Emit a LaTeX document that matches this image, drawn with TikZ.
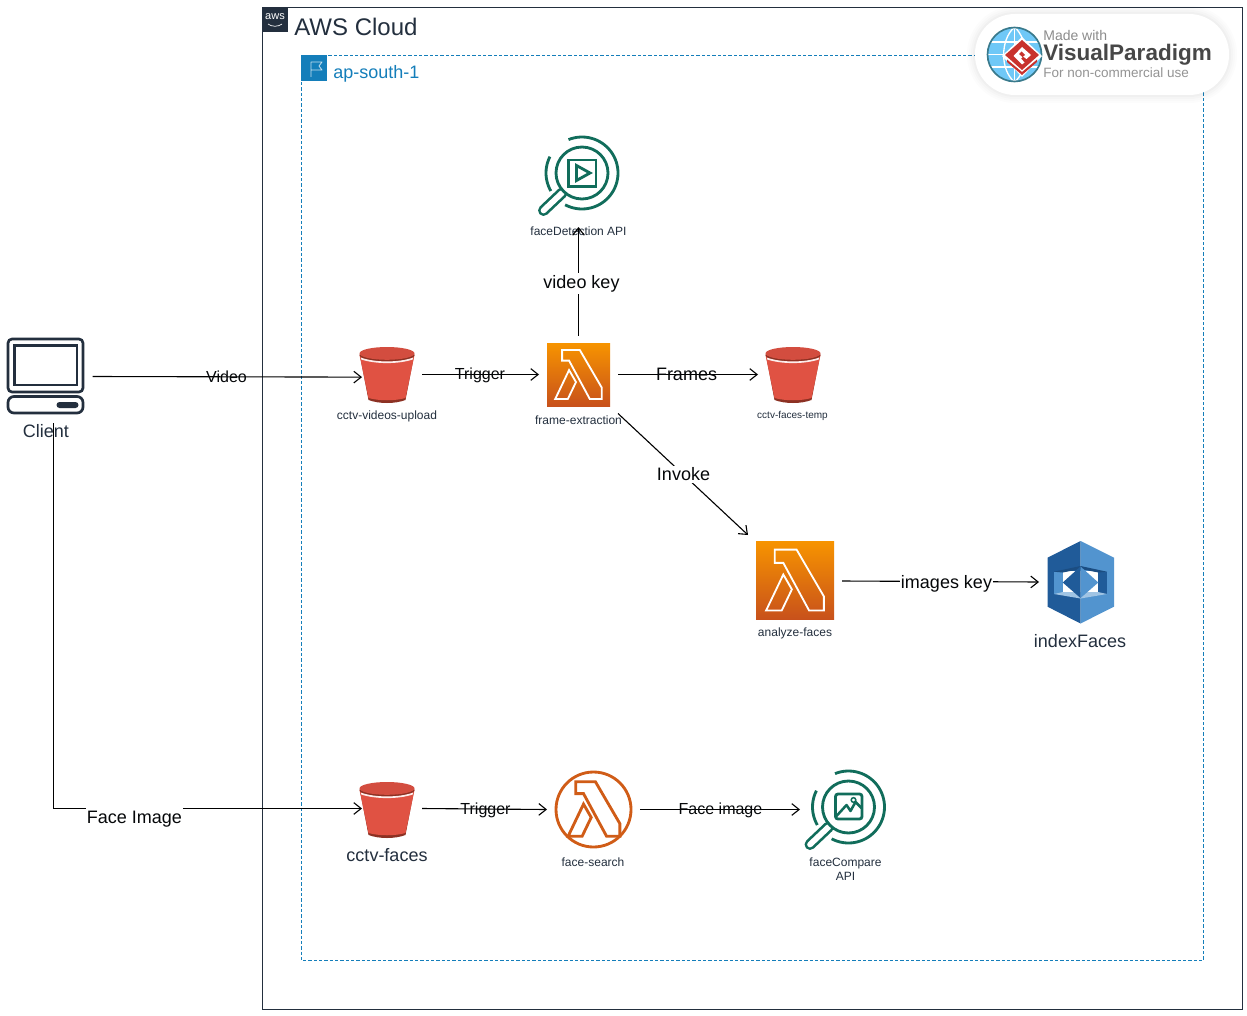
\documentclass[tikz,border=0pt]{standalone}
\usepackage{fontspec}
\setmainfont{Liberation Sans}
\usetikzlibrary{arrows.meta}
\definecolor{awsink}{HTML}{232F3E}
\definecolor{regionblue}{HTML}{147EBA}
\definecolor{lensgreen}{HTML}{116D5B}
\definecolor{bucketred}{HTML}{E05243}
\definecolor{bucketdark}{HTML}{8C3123}
\definecolor{lamtop}{HTML}{F79400}
\definecolor{lambot}{HTML}{C8511B}
\definecolor{lamline}{HTML}{D05C17}
\definecolor{idxdark}{HTML}{205B99}
\definecolor{idxlight}{HTML}{5294CF}
\definecolor{vpred}{HTML}{C8322D}
\definecolor{globeblue}{HTML}{6FC8F7}
\definecolor{globeedge}{HTML}{3A7A8C}
\newcommand{\fs}[1]{\fontsize{\fpeval{#1*0.6}pt}{\fpeval{#1*0.7}pt}\selectfont}
\tikzset{
  box/.style 2 args={minimum width=#1*0.6pt,minimum height=#2*0.6pt,inner sep=0pt,outer sep=0pt},
  conn/.style={black,line width=0.66pt,-{Straight Barb[length=4.4pt,width=7pt,line width=0.66pt]}},
  caption/.style={inner sep=0pt,text=awsink,align=center},
  small/.style={caption,font=\fs{12}},
  big/.style={caption,font=\fs{18}},
  onlinelabel/.style={inner sep=0pt,text=black!85!awsink},
  whitelabel/.style={fill=white,inner xsep=0.6pt,inner ysep=1.2pt,text=black!85!awsink},
}
% lambda glyph in unit square
\newcommand{\lamglyph}{(.24,.11)--(.52,.11)--(.87,.71)--(.87,.89)--(.68,.89)--(.35,.28)--(.24,.28)--cycle
  (.35,.43)--(.46,.62)--(.33,.89)--(.13,.89)--cycle}
\newcommand{\lambdasquare}[3]{% x y size
  \begin{scope}[shift={(#1,#2)},x=#3*0.6pt,y=-#3*0.6pt]
    \shade[top color=lamtop,bottom color=lambot] (0,0) rectangle (1,1);
    \draw[white,line width=1.1pt,line join=miter] \lamglyph;
  \end{scope}}
\newcommand{\bucketicon}[2]{% centre x, top y
  \begin{scope}[shift={(#1,#2)}]
    \fill[bucketdark] (-27,10) -- (-18.5,54) .. controls (-8,58) and (8,58) .. (18.5,54) -- (27,10) -- cycle;
    \fill[bucketred] (-27.5,9) -- (-18.5,52) .. controls (-8,55) and (8,55) .. (18.5,52) -- (27.5,9) -- cycle;
    \fill[bucketdark] (0,9) ellipse (27.5 and 6.7);
    \fill[bucketred!94!black] (0,7.4) ellipse (27.5 and 6.4);
    \draw[white!90!bucketred,line width=1pt] (-26,12.5) .. controls (-12,17.5) and (12,17.5) .. (26,12.5);
  \end{scope}}
\newcommand{\lensbase}[2]{% centre of the lens
  \begin{scope}[shift={(#1,#2)}]
    \draw[lensgreen,line width=1.7pt] plot[smooth,domain=112:-118,samples=50] ({36*cos(\x)},{-36*sin(\x)});
    \draw[lensgreen,line width=1.7pt] plot[smooth,domain=153:210,samples=14] ({36*cos(\x)},{-36*sin(\x)});
    \draw[lensgreen,line width=6.6pt,line cap=round] (-20,20) -- (-38.5,37.5);
    \draw[white,line width=3.4pt,line cap=round] (-20,20) -- (-38.5,37.5);
    \draw[lensgreen,line width=1.7pt,fill=white] (0,0) circle[radius=26];
  \end{scope}}
\begin{document}
\begin{tikzpicture}[x=0.6pt,y=-0.6pt]
\useasboundingbox (0,0) rectangle (1247,1015);
\fill[white] (0,0) rectangle (1247,1015);

% groups
\draw[awsink,line width=0.65pt] (262.5,7.5) rectangle (1242.5,1009.5);
\fill[awsink] (262,7) rectangle (288,32);
\node[inner sep=0pt,text=white,font=\fs{11}] (awslogo) at (275,17) {aws};
\draw[white,line width=0.4pt] (268,24) .. controls (272,27) and (278,27) .. (282,24);
\node[anchor=west,inner sep=0pt,text=awsink,font=\fs{24}] (cloudlabel) at (294,27) {AWS Cloud};
\draw[regionblue,line width=0.6pt,dash pattern=on 2pt off 1.2pt] (301.5,55.5) rectangle (1203.5,960.5);
\fill[regionblue] (301,55) rectangle (327,81);
\draw[white!75!regionblue,line width=0.5pt,line join=round] (311,77) -- (311,62) -- (322,62) -- (319,66) -- (322,70) -- (311,70);
\node[anchor=west,inner sep=0pt,text=regionblue,font=\fs{18}] (regionlabel) at (333,74) {ap-south-1};

% client icon
\draw[awsink,line width=1.6pt,rounded corners=2.4pt] (8,339) rectangle (83,392);
\draw[awsink,line width=1.6pt] (14.5,345.5) rectangle (77,385);
\draw[awsink,line width=1.6pt,rounded corners=3.6pt] (8,396.5) rectangle (83,413);
\fill[awsink,rounded corners=1.8pt] (56.5,402) rectangle (78.5,408);

% icons
\lensbase{582}{173}
\draw[lensgreen,line width=1.7pt] (568.5,160) rectangle (596,186.5);
\draw[lensgreen,line width=1.7pt,line join=miter] (576.5,165.5) -- (590,173) -- (576.5,180.5) -- cycle;
\bucketicon{387}{346}
\bucketicon{793}{346}
\bucketicon{387}{781}
\lambdasquare{547}{343}{63}
\lambdasquare{756}{541}{78}
% face-search
\draw[lamline,line width=1.7pt] (593.5,809.5) circle[radius=37.5];
\begin{scope}[shift={(559,774)},x=70*0.6pt,y=-70*0.6pt]
  \draw[lamline,line width=1.7pt,line join=miter] \lamglyph;
\end{scope}
% indexFaces
\fill[idxdark] (1080.5,541) -- (1047.5,557.7) -- (1047.5,606.7) -- (1080.5,623.5) -- cycle;
\fill[idxlight] (1080.5,541) -- (1114,557.7) -- (1114,606.7) -- (1080.5,623.5) -- cycle;
\fill[white] (1062.5,571) rectangle (1098.5,594);
\fill[idxlight] (1054,571.7) rectangle (1062.7,594);
\fill[idxdark] (1098.3,571.7) rectangle (1107,594);
\fill[idxdark!85!black] (1054,571.7) -- (1080.5,566) -- (1080.5,569) -- (1062.7,572.5) -- cycle;
\fill[idxdark!85!black] (1107,571.7) -- (1080.5,566) -- (1080.5,569) -- (1098.3,572.5) -- cycle;
\fill[idxlight!55!white] (1054,594) -- (1080.5,598.5) -- (1107,594) -- (1098,592) -- (1063,592) -- cycle;
\fill[idxdark] (1080.5,566.5) -- (1062.7,582.5) -- (1080.5,598) -- cycle;
\fill[idxlight] (1080.5,566.5) -- (1098.3,582.5) -- (1080.5,598) -- cycle;
% faceCompare
\lensbase{848.5}{807}
\draw[lensgreen,line width=1.7pt,rounded corners=1.5pt] (835.5,794) rectangle (862,819);
\draw[lensgreen,line width=1.5pt,line join=round] (836.5,816) -- (846.5,805) -- (850.5,811) -- (855.5,802) -- (861.5,808);
\draw[lensgreen,line width=0.9pt] (853.5,800) circle[radius=2.3];

% anchors for connectors (invisible boxes round the icons)
\node[box={78}{93}] (client) at (53.5,376.5) {};
\node[box={60}{60}] (bucketvideos) at (392,374.5) {};
\node[box={79}{78}] (frameext) at (578.5,374.5) {};
\node[box={90}{97}] (facedet) at (578.5,178.5) {};
\node[box={60}{60}] (buckettemp) at (788,374.5) {};
\node[box={94}{92}] (analyze) at (795,581) {};
\node[box={84}{84}] (indexf) at (1081,582) {};
\node[box={60}{60}] (bucketfaces) at (392,808.5) {};
\node[box={93}{80}] (facesearch) at (593.5,809.5) {};
\node[box={90}{80}] (facecomp) at (845,809.5) {};

% captions
\node[big] (clientlabel) at (46,431) {Client};
\node[small] (l1) at (387,416.5) {cctv-videos-upload};
\node[caption,font=\fs{10}] (l2) at (792.5,415.5) {cctv-faces-temp};
\node[small] (l3) at (578.5,420) {frame-extraction};
\node[small] (l4) at (578.5,231) {faceDetection API};
\node[small] (l5) at (795,633.5) {analyze-faces};
\node[big] (l6) at (1080,641) {indexFaces};
\node[big] (l7) at (387,855) {cctv-faces};
\node[small] (l8) at (593,862) {face-search};
\node[small] (l9) at (845.5,869.5) {faceCompare\\API};

% connectors
\draw[conn] (client.east) -- (bucketvideos.185);
\draw[conn] (bucketvideos.east) -- (frameext.west);
\draw[conn] (frameext.north) -- (facedet.south);
\draw[conn] (frameext.east) -- (buckettemp.west);
\draw[conn] (frameext.south east) -- (analyze.north west);
\draw[conn] (analyze.east) -- (indexf.west);
\draw[conn] (client.south) |- (bucketfaces.west);
\draw[conn] (bucketfaces.east) -- (facesearch.west);
\draw[conn] (facesearch.east) -- (facecomp.west);

% connector labels
\node[onlinelabel,font=\fs{16}] (tvideo) at (226.5,376.5) {Video};
\node[onlinelabel,font=\fs{16}] (ttrig1) at (480,375) {Trigger};
\node[whitelabel,font=\fs{18}] (tvkey) at (581.5,283.5) {video key};
\node[onlinelabel,font=\fs{18}] (tframes) at (686.5,374.5) {Frames};
\node[whitelabel,font=\fs{18}] (tinvoke) at (683.5,474.5) {Invoke};
\node[whitelabel,font=\fs{18}] (timages) at (946.5,583.5) {images key};
\node[whitelabel,font=\fs{18},inner ysep=2.6pt] (tface) at (134.5,819) {Face Image};
\node[onlinelabel,font=\fs{16}] (ttrig2) at (485.5,810) {Trigger};
\node[onlinelabel,font=\fs{16}] (tfaceimg) at (720.5,810) {Face image};

% watermark
\foreach \w/\o in {16/0.012,12/0.012,8/0.015,4/0.02}{
  \draw[black,opacity=\o,line width=\w*0.6pt,rounded corners=24pt] (975,14) rectangle (1229,95);
}
\fill[white,rounded corners=24pt] (975,14) rectangle (1229,95);
\fill[globeblue] (1014.5,54.5) circle[radius=27];
\begin{scope}
  \clip (1014.5,54.5) circle[radius=27];
  \draw[white,line width=0.8pt] (987,42) -- (1042,42) (987,54.5) -- (1042,54.5) (987,67) -- (1042,67) (1014.5,27) -- (1014.5,82);
  \draw[white,line width=0.8pt] (1014.5,27) .. controls (1000,40) and (1000,70) .. (1014.5,82);
  \draw[white,line width=0.8pt] (1014.5,27) .. controls (1029,40) and (1029,70) .. (1014.5,82);
\end{scope}
\draw[globeedge,line width=1pt] (1014.5,54.5) circle[radius=27];
\fill[white] (1022,37) -- (1042,56) -- (1022,77) -- (1002,56) -- cycle;
\fill[vpred] (1007,62) -- (1022,75) -- (1037,62) -- (1037,59.5) -- (1022,72) -- (1007,59.5) -- cycle;
\fill[vpred] (1022,40) -- (1039,55) -- (1022,70) -- (1005,55) -- cycle;
\fill[white] (1022,47) -- (1031,55) -- (1026.5,59) -- (1023,56.5) -- (1021,58.5) -- (1024.5,62.5) -- (1022,64.5) -- (1013.5,56) -- cycle;
\fill[vpred] (1021.5,51.5) -- (1025,55) -- (1022.5,57) -- (1019,54) -- cycle;
\node[anchor=west,inner sep=0pt,text=black!45,font=\fs{14}] (vp1) at (1043,35) {Made with};
\node[anchor=west,inner sep=0pt,text=black!72,font=\fs{22.5}\bfseries] (vp2) at (1043,55) {VisualParadigm};
\node[anchor=west,inner sep=0pt,text=black!42,font=\fs{13.5}] (vp3) at (1043,73) {For non-commercial use};
\end{tikzpicture}
\end{document}
